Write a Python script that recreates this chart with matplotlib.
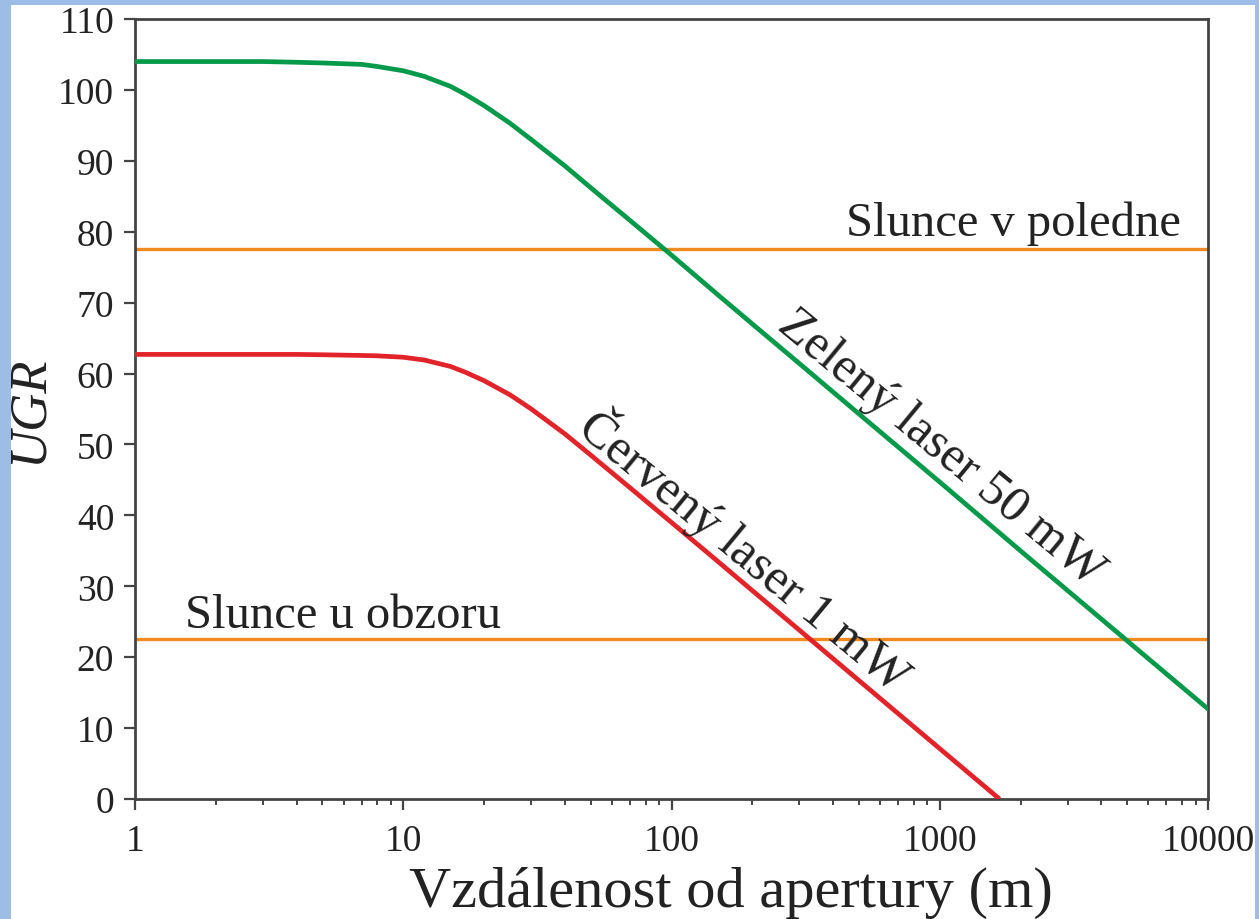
import matplotlib
matplotlib.use("Agg")
import matplotlib.pyplot as plt
from matplotlib.patches import Rectangle

# values
dist = [1, 2, 3, 4, 5, 7, 8, 10, 12, 15, 17, 20, 25, 30, 40, 50, 70, 100, 150,
        200, 300, 500, 1000, 2000, 5000, 10000]
green_ugr = [104.0, 104.0, 104.0, 103.9, 103.8, 103.6, 103.3, 102.7, 101.9, 100.5, 99.4,
             97.8, 95.3, 93.0, 89.3, 86.2, 81.6, 76.7, 71.0,
             67.0, 61.4, 54.3, 44.7, 35.0, 22.3, 12.7]
dist_red = [1, 2, 3, 4, 5, 7, 8, 10, 12, 15, 17, 20, 25, 30, 40, 50, 70, 100, 150,
            200, 300, 500, 1000, 1670]
red_ugr = [62.7, 62.7, 62.7, 62.7, 62.65, 62.55, 62.5, 62.3, 61.9, 61.0, 60.2,
           59.0, 57.0, 55.0, 51.5, 48.5, 43.9, 39.0, 33.4,
           29.4, 23.8, 16.7, 7.1, 0.0]
sun_noon = 77.5
sun_horizon = 22.5
xticks = [1, 10, 100, 1000, 10000]
yticks = list(range(0, 111, 10))

plt.rcParams['font.family'] = ['Liberation Serif', 'DejaVu Serif']
txt = '#222222'

fig = plt.figure(figsize=(12.59, 9.2), dpi=100, facecolor='#9dbde6')
fig.patches.append(Rectangle((11/1259, 0), 1244/1259, 914/920, transform=fig.transFigure,
                             facecolor='white', edgecolor='none', zorder=-10))
ax = fig.add_axes([135/1259, 120/920, 1073/1259, 780/920])
ax.set_facecolor('white')

ax.axhline(sun_noon, color='#f28a22', lw=2.4, zorder=2)
ax.axhline(sun_horizon, color='#f28a22', lw=2.4, zorder=2)
ax.plot(dist, green_ugr, color='#05994a', lw=3.4, zorder=3)
ax.plot(dist_red, red_ugr, color='#e3232a', lw=3.4, zorder=3, solid_capstyle='butt')

ax.set_xscale('log')
ax.set_xlim(1, 10000)
ax.set_ylim(0, 110)
ax.set_xticks(xticks)
ax.set_xticklabels([str(t) for t in xticks])
ax.set_yticks(yticks)
ax.tick_params(axis='both', which='major', direction='out', length=8, width=1.6,
               color='#444444', labelsize=27, labelcolor=txt)
ax.tick_params(axis='x', which='major', pad=10)
ax.tick_params(axis='y', which='major', pad=7)
ax.tick_params(axis='x', which='minor', direction='out', length=4, width=1.4, color='#444444')
for s in ax.spines.values():
    s.set_color('#444444')
    s.set_linewidth(2.0)

ax.set_xlabel('Vzdálenost od apertury (m)', fontsize=42, color=txt)
ax.xaxis.set_label_coords(0.555, -0.085)
ax.set_ylabel('UGR', fontsize=38, style='italic', color=txt, labelpad=4)

ax.text(446, 79.5, 'Slunce v poledne', fontsize=35, color=txt, ha='left', va='baseline')
ax.text(1.54, 24.3, 'Slunce u obzoru', fontsize=35, color=txt, ha='left', va='baseline')
ax.text(1009, 49.6, 'Zelený laser 50 mW', fontsize=36, color=txt, ha='center', va='center',
        rotation=-39.5, rotation_mode='anchor')
ax.text(189, 35.3, 'Červený laser 1 mW', fontsize=36, color=txt, ha='center', va='center',
        rotation=-39.5, rotation_mode='anchor')

fig.savefig('out.png', dpi=100, facecolor=fig.get_facecolor())
